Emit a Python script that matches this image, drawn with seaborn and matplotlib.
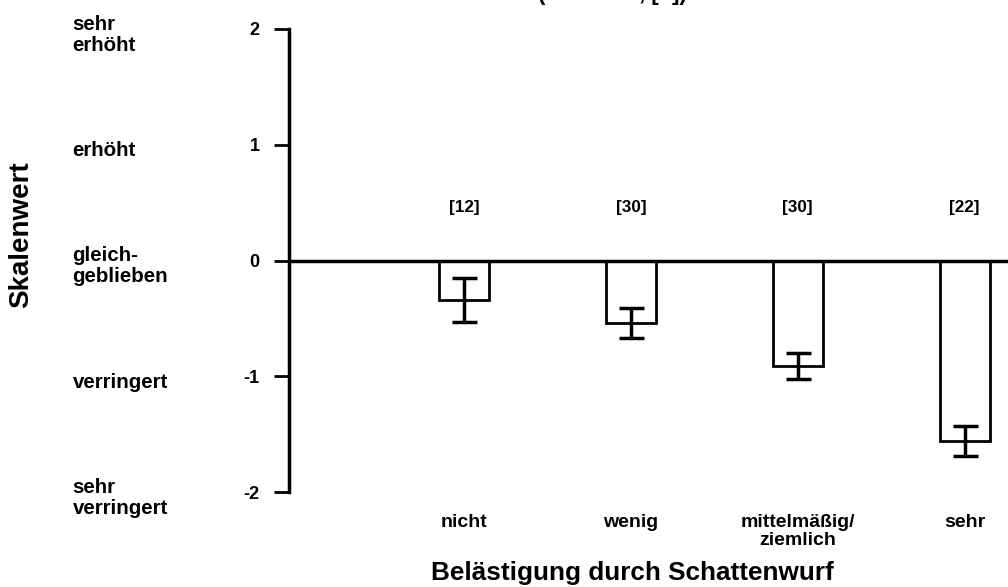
# %% libraries
import numpy as np
import pandas as pd
import seaborn as sns
import matplotlib.pyplot as plt
from matplotlib.transforms import blended_transform_factory

# %% data
categories = ['nicht', 'wenig', 'mittelmäßig/\nziemlich', 'sehr']
means = [-0.34, -0.54, -0.91, -1.56]
errors = [0.19, 0.13, 0.11, 0.13]
n_labels = ['[12]', '[30]', '[30]', '[22]']
scale_ticks = [2, 1, 0, -1, -2]
scale_names = ['sehr\nerhöht', 'erhöht', 'gleich-\ngeblieben', 'verringert', 'sehr\nverringert']

df = pd.DataFrame({'kategorie': categories, 'wert': means})

# %% plot
sns.set_theme(style='white')
plt.rcParams['font.family'] = ['Liberation Sans', 'DejaVu Sans']
plt.rcParams['font.weight'] = 'bold'
for key in ['text.color', 'axes.labelcolor', 'xtick.color', 'ytick.color']:
    plt.rcParams[key] = 'black'

fig = plt.figure(figsize=(10.08, 5.87), dpi=100)
ax = fig.add_axes([0.2867, 0.1618, 0.7133, 0.7888])

sns.barplot(data=df, x='kategorie', y='wert', ax=ax, color='white',
            edgecolor='black', linewidth=2, width=0.3, errorbar=None)
ax.errorbar(x=np.arange(len(categories)), y=means, yerr=errors, fmt='none',
            ecolor='black', elinewidth=2.5, capsize=9, capthick=2.5)
ax.axhline(0, color='black', lw=2.5, zorder=5)

for i, lab in enumerate(n_labels):
    ax.text(i, 0.46, lab, ha='center', va='center', fontsize=12.3, fontweight='bold')

ax.set_ylim(-2, 2)
ax.set_xlim(-1.05, 3.26)
ax.set_yticks(scale_ticks)
ax.set_yticklabels([str(t) for t in scale_ticks], fontsize=13, fontweight='bold')
ax.tick_params(axis='y', direction='out', length=11, width=2, color='black', pad=10, left=True)
ax.tick_params(axis='x', length=0, pad=16, labelsize=14)
for lab in ax.get_xticklabels():
    lab.set_fontweight('bold')
    lab.set_verticalalignment('top')
    lab.set_linespacing(1.05)

for side in ['top', 'right', 'bottom']:
    ax.spines[side].set_visible(False)
ax.spines['left'].set_linewidth(2.5)
ax.spines['left'].set_color('black')

ax.set_xlabel('Belästigung durch Schattenwurf', fontsize=18.8, fontweight='bold',
              va='center')
ax.xaxis.set_label_coords(0.477, -0.175)
ax.set_ylabel('')
fig.text(0.021, 0.601, 'Skalenwert', rotation=90, ha='center', va='center',
         fontsize=20, fontweight='bold')

trans = blended_transform_factory(fig.transFigure, ax.transData)
for t, name in zip(scale_ticks, scale_names):
    ax.text(0.072, t - 0.05, name, transform=trans, ha='left', va='center',
            fontsize=14.8, fontweight='bold', linespacing=1.12)

# title cut off at the top edge
fig.text(0.608, 1.0, '(MW ± SE, [n])', ha='center', va='baseline',
         fontsize=16, fontweight='bold')

fig.savefig('out.png', dpi=100)
